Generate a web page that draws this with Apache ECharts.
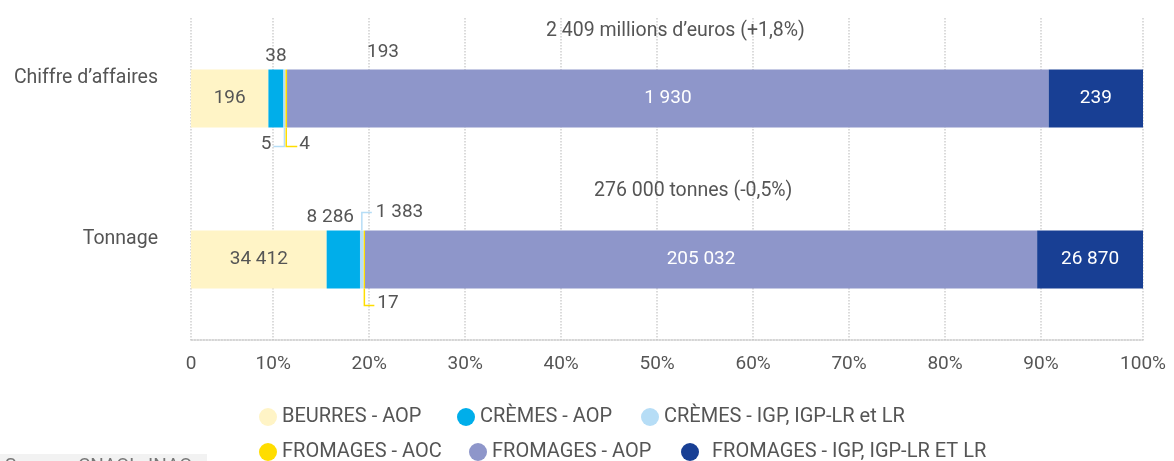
<!DOCTYPE html>
<html>
<head>
<meta charset="utf-8">
<script src="https://cdn.jsdelivr.net/npm/echarts@6/dist/echarts.min.js"></script>
<style>
  html, body { margin: 0; padding: 0; background: #fff; }
  #chart { width: 1174px; height: 461px; }
</style>
</head>
<body>
<div id="chart"></div>
<script>
// categories (top to bottom)
const categories = ["Chiffre d’affaires", "Tonnage"];
const seriesNames = [
  "BEURRES - AOP",
  "CRÈMES - AOP",
  "CRÈMES - IGP, IGP-LR et LR",
  "FROMAGES - AOC",
  "FROMAGES - AOP",
  "FROMAGES - IGP, IGP-LR ET LR"
];
const colors = ["#fff4c6", "#00aeea", "#b6ddf6", "#ffdd00", "#8e96ca", "#183f94"];

// values written on the bars [CA (M€), tonnage (t)]
const beurresAop = [196, 34412];
const cremesAop = [38, 8286];
const cremesIgp = [5, 1383];
const fromagesAoc = [4, 17];
const fromagesAop = [1930, 205032];
const fromagesIgp = [239, 26870];

// bar lengths, % of each bar
const beurresShare = [8.13, 14.25];
const cremesAopShare = [1.58, 3.5];
const cremesIgpShare = [0.21, 0.39];
const fromagesAocShare = [0.17, 0.14];
const fromagesAopShare = [80.0, 70.6];
const fromagesIgpShare = [9.91, 11.12];

const totals = ["2 409 millions d’euros (+1,8%)", "276 000 tonnes (-0,5%)"];
// gridline / tick labels; the first and last sit on the plot edges
const xTicks = [0, 10, 20, 30, 40, 50, 60, 70, 80, 90, 100];
const tickAxisMin = 1.43, tickAxisMax = 100.63;

const labelValues = [beurresAop, cremesAop, cremesIgp, fromagesAoc, fromagesAop, fromagesIgp];
const shares = [beurresShare, cremesAopShare, cremesIgpShare, fromagesAocShare, fromagesAopShare, fromagesIgpShare];

const FONT = "Roboto";
const BAR_W = 58;
function fmt(v) {
  return String(v).replace(/\B(?=(\d{3})+(?!\d))/g, " ");
}

var chart = echarts.init(document.getElementById("chart"));

function labelFor(i) {
  var base = {
    show: true,
    fontFamily: FONT,
    fontSize: 19,
    color: "#555",
    formatter: function (p) {
      return fmt(labelValues[i][p.dataIndex]);
    }
  };
  if (i === 0) base.position = "inside";
  if (i === 1) { base.position = "top"; base.distance = 4; }
  if (i === 2 || i === 3) base.position = "bottom";
  if (i === 4 || i === 5) { base.position = "inside"; base.color = "#fff"; }
  return base;
}

// where the small labels sit next to their bar piece
function layoutFor(i) {
  if (i === 1) {
    return function (p) {
      return p.dataIndex === 1 ? { dx: -13 } : {};
    };
  }
  if (i === 2) {
    return function (p) {
      var r = p.rect, cx = r.x + r.width / 2, bottom = r.y + r.height;
      if (p.dataIndex === 0) {
        return { x: cx - 13, y: bottom + 17, align: "right", verticalAlign: "middle" };
      }
      return { x: cx + 14, y: r.y - 18, align: "left", verticalAlign: "middle" };
    };
  }
  if (i === 3) {
    return function (p) {
      var r = p.rect, cx = r.x + r.width / 2, bottom = r.y + r.height;
      return { x: cx + 13, y: bottom + (p.dataIndex === 0 ? 17 : 15), align: "left", verticalAlign: "middle" };
    };
  }
  return null;
}

var series = seriesNames.map(function (name, i) {
  var s = {
    name: name,
    type: "bar",
    stack: "total",
    barWidth: BAR_W,
    xAxisIndex: 0,
    itemStyle: { color: colors[i] },
    label: labelFor(i),
    data: shares[i]
  };
  var lay = layoutFor(i);
  if (lay) s.labelLayout = lay;
  return s;
});

// legend: one small legend per item, two rows of three
var legendLeft = [259, 457, 641, 259, 469, 681];
var legendTop = [407, 407, 407, 442, 442, 442];
var legends = seriesNames.map(function (name, i) {
  return {
    data: [name],
    left: legendLeft[i], top: legendTop[i], padding: 0,
    icon: "circle", itemWidth: 18, itemHeight: 18,
    textStyle: {
      fontFamily: FONT, fontSize: 20, color: "#555",
      padding: i === 5 ? [0, 0, 0, 8] : 0
    }
  };
});

var dotted = { color: "#cfcfcf", type: "dotted", width: 1.5 };
var tickValues = xTicks.map(function (v, k) {
  if (k === 0) return tickAxisMin;
  if (k === xTicks.length - 1) return tickAxisMax;
  return v;
});

var option = {
  animation: false,
  color: colors,
  grid: { left: 191, right: 31, top: 18, bottom: 121, containLabel: false },
  legend: legends,
  xAxis: [
    {
      // scale of the bars
      type: "value", min: 0, max: 100, show: false
    },
    {
      // gridlines and percent labels as drawn in the original
      type: "value",
      position: "bottom",
      min: tickAxisMin,
      max: tickAxisMax,
      axisLine: { show: true, lineStyle: { color: "#c8c8c8", type: "dotted", width: 1.5 } },
      axisTick: { show: false, customValues: tickValues },
      splitLine: { show: true, lineStyle: dotted },
      axisLabel: {
        margin: 15,
        fontFamily: FONT,
        fontSize: 19,
        color: "#555",
        customValues: tickValues,
        formatter: function (v) {
          var k = tickValues.indexOf(v);
          var t = k >= 0 ? xTicks[k] : Math.round(v);
          return t === 0 ? "0" : t + "%";
        }
      }
    }
  ],
  yAxis: {
    type: "category",
    inverse: true,
    data: categories,
    axisLine: { show: false },
    axisTick: { show: false },
    axisLabel: {
      margin: 33,
      fontFamily: FONT,
      fontSize: 19.5,
      color: "#555",
      verticalAlign: "bottom",
      padding: [0, 0, 10, 0]
    }
  },
  series: series
};

chart.setOption(option);

// titles, note and the leader lines of the two tiny pieces
function piecePos(i, cat) {
  var before = 0;
  for (var k = 0; k < i; k++) before += shares[k][cat];
  var mid = before + shares[i][cat] / 2;
  var pt = chart.convertToPixel({ xAxisIndex: 0, yAxisIndex: 0 }, [mid, cat]);
  return { cx: pt[0], top: pt[1] - BAR_W / 2, bottom: pt[1] + BAR_W / 2 };
}
function leader(id, color, pts) {
  return {
    type: "polyline", id: id, silent: true, z: 10,
    shape: { points: pts },
    style: { stroke: color, lineWidth: 1.5, fill: null }
  };
}

var lb0 = piecePos(2, 0), yl0 = piecePos(3, 0);
var lb1 = piecePos(2, 1), yl1 = piecePos(3, 1);

chart.setOption({
  graphic: [
    { type: "text", id: "t0", left: 546, top: 21,
      style: { text: totals[0], font: "19.5px " + FONT, fill: "#555" } },
    { type: "text", id: "t1", left: 594, top: 181,
      style: { text: totals[1], font: "19.5px " + FONT, fill: "#555" } },
    { type: "text", id: "n193", left: 367, top: 43,
      style: { text: "193", font: "19px " + FONT, fill: "#555" } },
    { type: "rect", id: "srcBox", left: 0, top: 454,
      shape: { width: 207, height: 20 }, style: { fill: "#f2f2f2" } },
    { type: "text", id: "srcText", left: 5, top: 457,
      style: { text: "Source : CNAOL, INAO", font: "19px " + FONT, fill: "#777" } },
    leader("l0", colors[2], [[lb0.cx, lb0.bottom], [lb0.cx, lb0.bottom + 19], [lb0.cx - 11, lb0.bottom + 19]]),
    leader("l1", colors[3], [[yl0.cx, yl0.bottom], [yl0.cx, yl0.bottom + 19], [yl0.cx + 11, yl0.bottom + 19]]),
    leader("l2", colors[2], [[lb1.cx, lb1.top], [lb1.cx, lb1.top - 18], [lb1.cx + 10, lb1.top - 18]]),
    leader("l3", colors[3], [[yl1.cx, yl1.bottom], [yl1.cx, yl1.bottom + 17], [yl1.cx + 10, yl1.bottom + 17]])
  ]
});

window.addEventListener("resize", function () {
  chart.resize();
});
</script>
</body>
</html>
